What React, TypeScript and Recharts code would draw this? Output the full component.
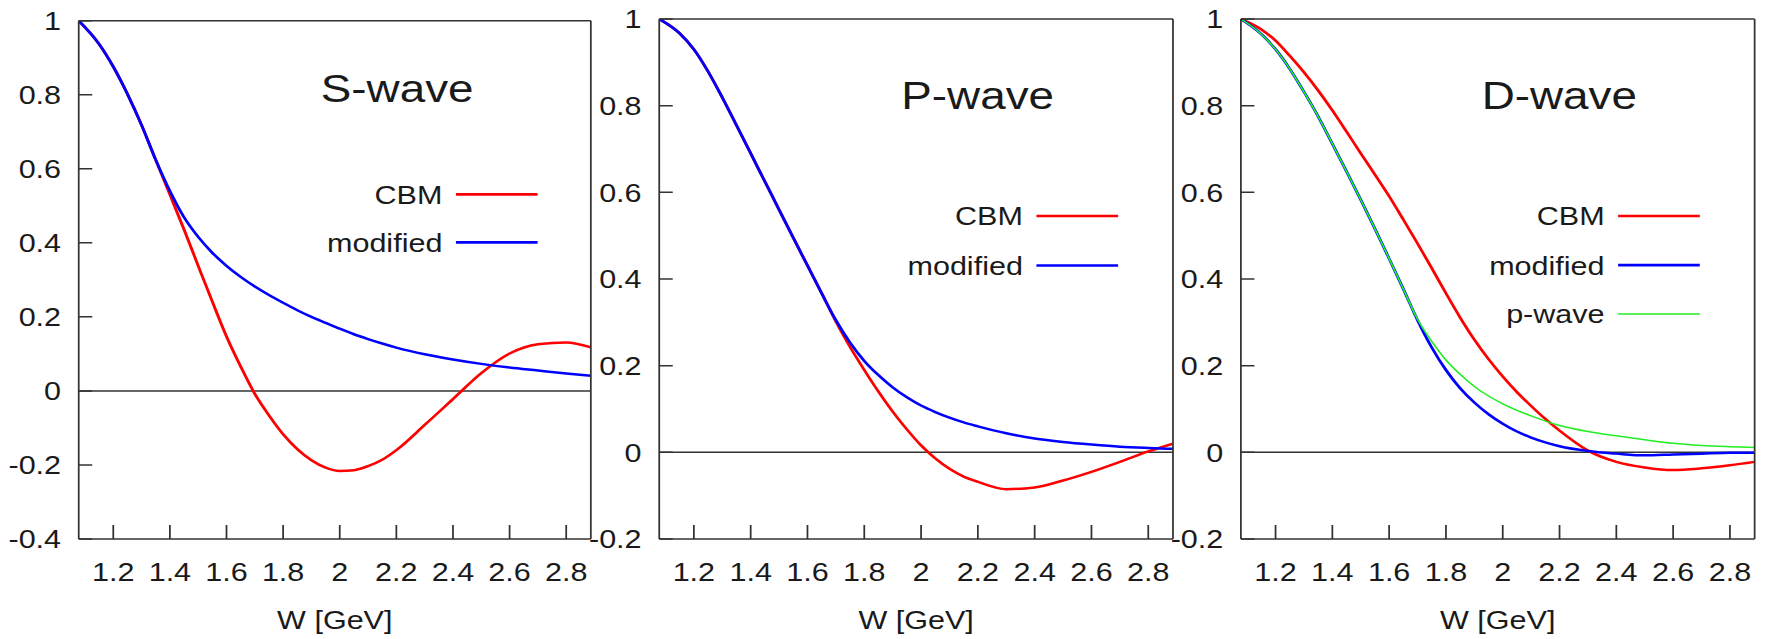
import React from 'react';
import { LineChart, Line, XAxis, YAxis, ReferenceLine, Legend } from 'recharts';

// ---------- data ----------
const W = [1.078, 1.15, 1.2, 1.25, 1.3, 1.35, 1.4, 1.45, 1.5, 1.55, 1.6, 1.65, 1.7, 1.75, 1.8, 1.85, 1.9, 1.95, 2.0, 2.05, 2.1, 2.15, 2.2, 2.3, 2.4, 2.5, 2.6, 2.7, 2.8, 2.887];

const sCBM = [1.0, 0.937, 0.876, 0.802, 0.718, 0.624, 0.53, 0.436, 0.338, 0.241, 0.147, 0.066, -0.008, -0.066, -0.117, -0.157, -0.187, -0.207, -0.216, -0.214, -0.203, -0.186, -0.16, -0.092, -0.022, 0.048, 0.101, 0.126, 0.131, 0.118];
const sModified = [1.0, 0.937, 0.876, 0.802, 0.718, 0.624, 0.54, 0.469, 0.416, 0.373, 0.338, 0.308, 0.282, 0.259, 0.238, 0.218, 0.2, 0.184, 0.168, 0.153, 0.14, 0.128, 0.117, 0.099, 0.085, 0.073, 0.063, 0.055, 0.047, 0.041];

const pCBM = [1.0, 0.967, 0.93, 0.879, 0.819, 0.755, 0.69, 0.625, 0.56, 0.495, 0.431, 0.367, 0.302, 0.243, 0.19, 0.14, 0.094, 0.053, 0.016, -0.014, -0.038, -0.056, -0.068, -0.085, -0.081, -0.065, -0.045, -0.022, 0.002, 0.02];
const pModified = [1.0, 0.967, 0.93, 0.879, 0.819, 0.755, 0.69, 0.625, 0.56, 0.495, 0.431, 0.367, 0.305, 0.253, 0.211, 0.178, 0.15, 0.127, 0.108, 0.093, 0.08, 0.069, 0.06, 0.044, 0.032, 0.024, 0.018, 0.013, 0.01, 0.008];

const dCBM = [1.0, 0.976, 0.95, 0.915, 0.877, 0.835, 0.789, 0.74, 0.69, 0.641, 0.591, 0.537, 0.482, 0.425, 0.367, 0.311, 0.26, 0.215, 0.175, 0.139, 0.107, 0.077, 0.05, 0.004, -0.022, -0.035, -0.041, -0.037, -0.03, -0.022];
const dModified = [1.0, 0.965, 0.93, 0.885, 0.832, 0.775, 0.712, 0.648, 0.583, 0.516, 0.447, 0.377, 0.305, 0.242, 0.19, 0.148, 0.115, 0.088, 0.066, 0.048, 0.034, 0.023, 0.014, 0.003, -0.003, -0.007, -0.005, -0.003, -0.001, -0.001];
const dPwave = [1.0, 0.965, 0.93, 0.885, 0.832, 0.775, 0.712, 0.648, 0.583, 0.516, 0.447, 0.377, 0.307, 0.256, 0.213, 0.18, 0.152, 0.13, 0.112, 0.097, 0.084, 0.072, 0.062, 0.048, 0.038, 0.029, 0.021, 0.016, 0.013, 0.011];

const xTicks = [1.2, 1.4, 1.6, 1.8, 2.0, 2.2, 2.4, 2.6, 2.8];
const yTicksS = [-0.4, -0.2, 0, 0.2, 0.4, 0.6, 0.8, 1];
const yTicksPD = [-0.2, 0, 0.2, 0.4, 0.6, 0.8, 1];
const xDomain: [number, number] = [1.078, 2.887];

const titles = ['S-wave', 'P-wave', 'D-wave'];
const xLabel = 'W [GeV]';

// ---------- style ----------
const FONT = "'Liberation Sans', Arial, Helvetica, sans-serif";
const STRETCH = 1.1751;
const INNER_W = 1502;
const AXIS = '#333333';
const TXT = '#1a1a1a';
const RED = '#ff0000';
const BLUE = '#0000ff';
const GREEN = '#22ee22';

type Series = { name: string; color: string; width: number; values: number[] };

const fmt = (v: number) => String(Number(Number(v).toFixed(1)));

function buildRows(series: Series[]) {
  return W.map((w, i) => {
    const r: Record<string, number> = { w };
    series.forEach((s, k) => {
      r['s' + k] = s.values[i];
    });
    return r;
  });
}

type PanelProps = {
  plotLeft: number;
  plotW: number;
  top: number;
  yDomain: [number, number];
  yTicks: number[];
  series: Series[];
  title: string;
  titleY: number;
  legendY: number[];
};

const YW = 60;

function Panel(p: PanelProps) {
  const rightM = 6;
  const chartW = YW + p.plotW + 1 + rightM;
  const H = 639;
  const data = buildRows(p.series);

  const overlay = () => (
    <svg width={chartW} height={H} style={{ position: 'absolute', left: 0, top: 0, overflow: 'visible' }}>
      <text x={YW + 271} y={p.titleY} textAnchor="middle" fontSize={39} fontFamily={FONT} fill={TXT}>
        {p.title}
      </text>
      {p.series.map((s, k) => (
        <g key={s.name}>
          <text x={YW + 309.5} y={p.legendY[k] + 9.5} textAnchor="end" fontSize={26} fontFamily={FONT} fill={TXT}>
            {s.name}
          </text>
          <line x1={YW + 321} x2={YW + 390.5} y1={p.legendY[k]} y2={p.legendY[k]} stroke={s.color} strokeWidth={s.width + 0.2} />
        </g>
      ))}
    </svg>
  );

  return (
    <div style={{ position: 'absolute', left: p.plotLeft - YW, top: 0 }}>
      <LineChart width={chartW} height={H} data={data} margin={{ top: p.top - 1, right: rightM, bottom: 40, left: 0 }}>
        <XAxis
          xAxisId="b"
          dataKey="w"
          type="number"
          domain={xDomain}
          allowDataOverflow
          ticks={xTicks}
          interval={0}
          tickFormatter={fmt}
          tickSize={-14}
          tickMargin={38}
          height={60}
          stroke={AXIS}
          strokeWidth={1.5}
          tick={{ fill: TXT, fontSize: 26, fontFamily: FONT }}
          label={{ value: xLabel, position: 'bottom', offset: 12, fill: TXT, fontSize: 26, fontFamily: FONT }}
        />
        <XAxis
          xAxisId="t"
          orientation="top"
          dataKey="w"
          type="number"
          domain={xDomain}
          allowDataOverflow
          ticks={xTicks}
          interval={0}
          tick={false}
          tickSize={-14}
          height={1}
          stroke={AXIS}
          strokeWidth={1.5}
        />
        <YAxis
          yAxisId="l"
          type="number"
          domain={p.yDomain}
          allowDataOverflow
          ticks={p.yTicks}
          interval={0}
          tickFormatter={fmt}
          tickSize={-11.5}
          tickMargin={26.5}
          width={YW}
          stroke={AXIS}
          strokeWidth={1.5}
          tick={{ fill: TXT, fontSize: 26, fontFamily: FONT }}
        />
        <YAxis
          yAxisId="r"
          orientation="right"
          type="number"
          domain={p.yDomain}
          allowDataOverflow
          ticks={p.yTicks}
          interval={0}
          tick={false}
          tickSize={-11.5}
          width={1}
          stroke={AXIS}
          strokeWidth={1.5}
        />
        <ReferenceLine xAxisId="b" yAxisId="l" y={0} stroke={AXIS} strokeWidth={1.5} />
        {p.series.map((s, k) => (
          <Line
            key={s.name}
            xAxisId="b"
            yAxisId="l"
            dataKey={'s' + k}
            name={s.name}
            type="monotone"
            stroke={s.color}
            strokeWidth={s.width}
            dot={false}
            activeDot={false}
            isAnimationActive={false}
          />
        ))}
        <Legend
          layout="vertical"
          align="center"
          verticalAlign="middle"
          content={overlay}
          wrapperStyle={{ left: 0, top: 0, width: chartW, height: H, pointerEvents: 'none' }}
        />
      </LineChart>
    </div>
  );
}

export default function App() {
  const sSeries: Series[] = [
    { name: 'CBM', color: RED, width: 2.5, values: sCBM },
    { name: 'modified', color: BLUE, width: 2.5, values: sModified },
  ];
  const pSeries: Series[] = [
    { name: 'CBM', color: RED, width: 2.5, values: pCBM },
    { name: 'modified', color: BLUE, width: 2.5, values: pModified },
  ];
  const dSeries: Series[] = [
    { name: 'CBM', color: RED, width: 2.5, values: dCBM },
    { name: 'modified', color: BLUE, width: 2.5, values: dModified },
    { name: 'p-wave', color: GREEN, width: 1.5, values: dPwave },
  ];

  return (
    <div style={{ position: 'fixed', left: 0, top: 0, width: 1765, height: 639, overflow: 'hidden', background: '#fff' }}>
      <div
        style={{
          position: 'absolute',
          left: 0,
          top: 0,
          width: INNER_W,
          height: 639,
          transform: `scaleX(${STRETCH})`,
          transformOrigin: '0 0',
        }}
      >
        <Panel plotLeft={67.3} plotW={435.8} top={20.7} yDomain={[-0.4, 1]} yTicks={yTicksS} series={sSeries} title={titles[0]} titleY={101.7} legendY={[194.3, 242.3]} />
        <Panel plotLeft={561.1} plotW={437.2} top={19} yDomain={[-0.2, 1]} yTicks={yTicksPD} series={pSeries} title={titles[1]} titleY={109.3} legendY={[216, 265.5]} />
        <Panel plotLeft={1056.3} plotW={437.2} top={19} yDomain={[-0.2, 1]} yTicks={yTicksPD} series={dSeries} title={titles[2]} titleY={109.3} legendY={[216, 265.2, 314]} />
      </div>
    </div>
  );
}
